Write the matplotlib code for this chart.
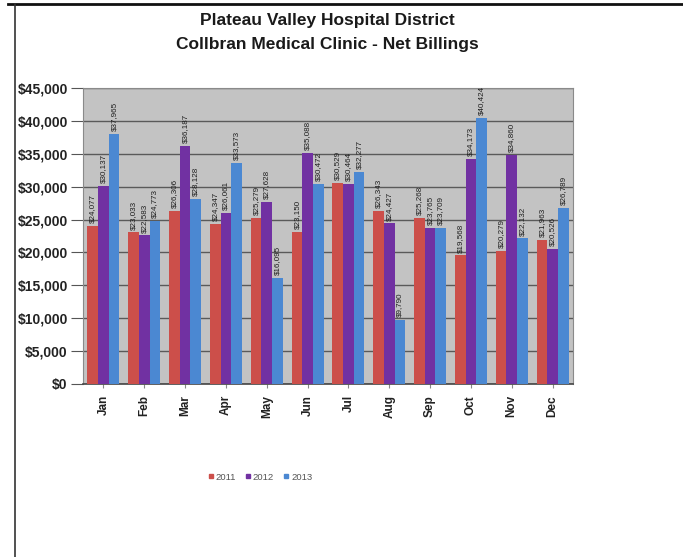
import matplotlib
matplotlib.use("Agg")
import matplotlib.pyplot as plt
from matplotlib.lines import Line2D
import numpy as np

months = ["Jan", "Feb", "Mar", "Apr", "May", "Jun", "Jul", "Aug", "Sep", "Oct", "Nov", "Dec"]
years = ["2011", "2012", "2013"]
v2011 = [24077, 23033, 26306, 24347, 25279, 23150, 30529, 26343, 25268, 19568, 20279, 21963]
v2012 = [30137, 22583, 36187, 26061, 27628, 35088, 30464, 24427, 23765, 34173, 34860, 20526]
v2013 = [37965, 24773, 28128, 33573, 16095, 30472, 32277, 9790, 23709, 40424, 22132, 26789]
series = [v2011, v2012, v2013]
colors = ["#cc4f4a", "#7131a2", "#4b88d2"]
yticks = list(range(0, 45001, 5000))

plt.rcParams['font.family'] = ['Liberation Sans', 'DejaVu Sans']

fig = plt.figure(figsize=(6.83, 5.57), dpi=100)
ax = fig.add_axes([83/683, 1 - 384/557, 490/683, 296/557])
ax.set_facecolor("#c3c3c3")

x = np.arange(len(months))
w = 0.26
for i, (vals, c) in enumerate(zip(series, colors)):
    pos = x + (i - 1) * w
    bars = ax.bar(pos, vals, width=w, color=c, label=years[i], zorder=3)
    for b, v in zip(bars, vals):
        ax.annotate(f"${v:,}", (b.get_x() + b.get_width() / 2, v),
                    xytext=(0, 2), textcoords="offset points",
                    rotation=90, ha="center", va="bottom", fontsize=5.8,
                    color="#1e1e1e", zorder=4, annotation_clip=False)

ax.set_xlim(-0.5, len(months) - 0.5)
ax.set_ylim(0, 45000)
ax.set_yticks(yticks)
ax.set_yticklabels([f"${t:,}" for t in yticks], fontsize=10, fontweight="bold", color="#222222")
ax.set_xticks(x)
ax.set_xticklabels(months, rotation=90, fontsize=8.5, fontweight="bold", color="#222222")
ax.tick_params(axis="y", length=9, color="#555555", pad=2)
ax.tick_params(axis="x", length=3, color="#888888", pad=5)
ax.grid(axis="y", color="#5a5a5a", linewidth=1.0, zorder=1)
for s in ["left", "right", "top"]:
    ax.spines[s].set_color("#8a8a8a")
ax.spines["bottom"].set_color("#444444")
ax.spines["bottom"].set_linewidth(1.2)

fig.text(327/683, 1 - 21/557, "Plateau Valley Hospital District", ha="center", va="center",
         fontsize=12.5, fontweight="bold", color="#1a1a1a")
fig.text(327/683, 1 - 45/557, "Collbran Medical Clinic - Net Billings", ha="center", va="center",
         fontsize=12.5, fontweight="bold", color="#1a1a1a")

handles = [Line2D([], [], linestyle="none", marker="s", markersize=3.5, color=c) for c in colors]
fig.legend(handles, years, loc="center", bbox_to_anchor=(260/683, 1 - 477/557), ncol=3,
           frameon=False, fontsize=6.8, handlelength=0.6, handletextpad=0.2, columnspacing=1.0,
           labelcolor="#555555")

# frame lines
fig.add_artist(Line2D([8/683, 1], [1 - 4/557, 1 - 4/557], color="#111111", linewidth=2, transform=fig.transFigure))
fig.add_artist(Line2D([15/683, 15/683], [0, 1 - 4/557], color="#333333", linewidth=1.2, transform=fig.transFigure))

fig.savefig("out.png", dpi=100)
